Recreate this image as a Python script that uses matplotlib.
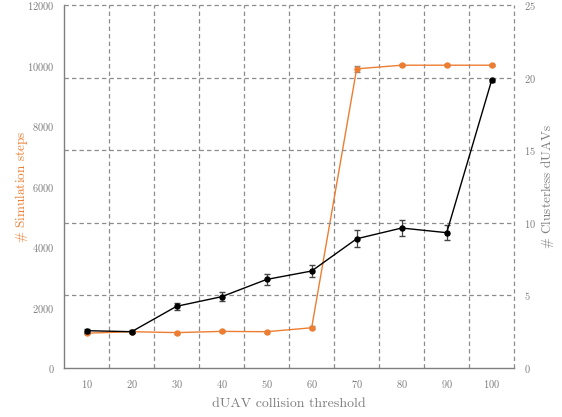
import numpy as np
import matplotlib
matplotlib.use('Agg')
import matplotlib.pyplot as plt

plt.rcParams['font.family'] = 'serif'
plt.rcParams['font.serif'] = ['cmr10']
plt.rcParams['mathtext.fontset'] = 'cm'
plt.rcParams['axes.formatter.use_mathtext'] = True

# collision threshold sweep
thresholds = [10, 20, 30, 40, 50, 60, 70, 80, 90, 100]
sim_steps = [1150, 1200, 1170, 1210, 1200, 1330, 9890, 10010, 10010, 10010]
sim_steps_err = [40, 50, 30, 30, 30, 50, 110, 40, 40, 40]
clusterless = [2.57, 2.5, 4.25, 4.91, 6.1, 6.68, 8.9, 9.64, 9.32, 19.83]
clusterless_err = [0.15, 0.1, 0.25, 0.29, 0.4, 0.38, 0.58, 0.57, 0.52, 0.1]

orange = '#ED7D31'
gray = '#7f7f7f'
grid_gray = '#8c8c8c'

fig = plt.figure(figsize=(5.62, 4.17), dpi=100)
ax = fig.add_axes([0.114, 0.1175, 0.801, 0.8705])
ax2 = ax.twinx()

ax.errorbar(thresholds, sim_steps, yerr=sim_steps_err, color=orange, lw=1.0,
            marker='o', ms=3.6, ecolor='#8a8a8a', elinewidth=0.9, capsize=2.5, zorder=3)
ax2.errorbar(thresholds, clusterless, yerr=clusterless_err, color='black', lw=1.0,
             marker='o', ms=3.6, ecolor='#444444', elinewidth=0.9, capsize=2.5, zorder=3)

ax.set_xlim(5, 105)
ax.set_ylim(0, 12000)
ax2.set_ylim(0, 25)
ax.set_xticks(thresholds)
ax.set_yticks(np.arange(0, 12001, 2000))
ax2.set_yticks([0, 5, 10, 15, 20, 25])

# dashed grid: vertical between thresholds, horizontal on right-axis ticks
dash = (0, (3.5, 2.5))
for xv in np.arange(15, 106, 10):
    ax.axvline(xv, color=grid_gray, lw=0.9, ls=dash, zorder=0, clip_on=False)
for yv in [5, 10, 15, 20, 25]:
    ax2.axhline(yv, color=grid_gray, lw=0.9, ls=dash, zorder=0, clip_on=False)

for a in (ax, ax2):
    a.spines['top'].set_visible(False)
    a.spines['right'].set_visible(False)
    a.spines['left'].set_color(gray)
    a.spines['bottom'].set_color(gray)
    a.spines['left'].set_linewidth(1.0)
    a.spines['bottom'].set_linewidth(1.0)
ax2.spines['left'].set_visible(False)
ax2.spines['bottom'].set_visible(False)

ax.tick_params(axis='both', length=0, labelsize=7.5, colors=gray)
ax.tick_params(axis='y', pad=7)
ax.tick_params(axis='x', pad=7)
ax2.tick_params(axis='y', length=0, labelsize=7.5, colors=gray, pad=7)

ax.set_xlabel('dUAV collision threshold', fontsize=10, color=gray, labelpad=6)
ax.set_ylabel(r'$\#$ Simulation steps', fontsize=9.5, color=orange, labelpad=-2)
ax2.set_ylabel(r'$\#$ Clusterless dUAVs', fontsize=9.5, color=gray, labelpad=2.5)

fig.savefig('out.png', dpi=100)
